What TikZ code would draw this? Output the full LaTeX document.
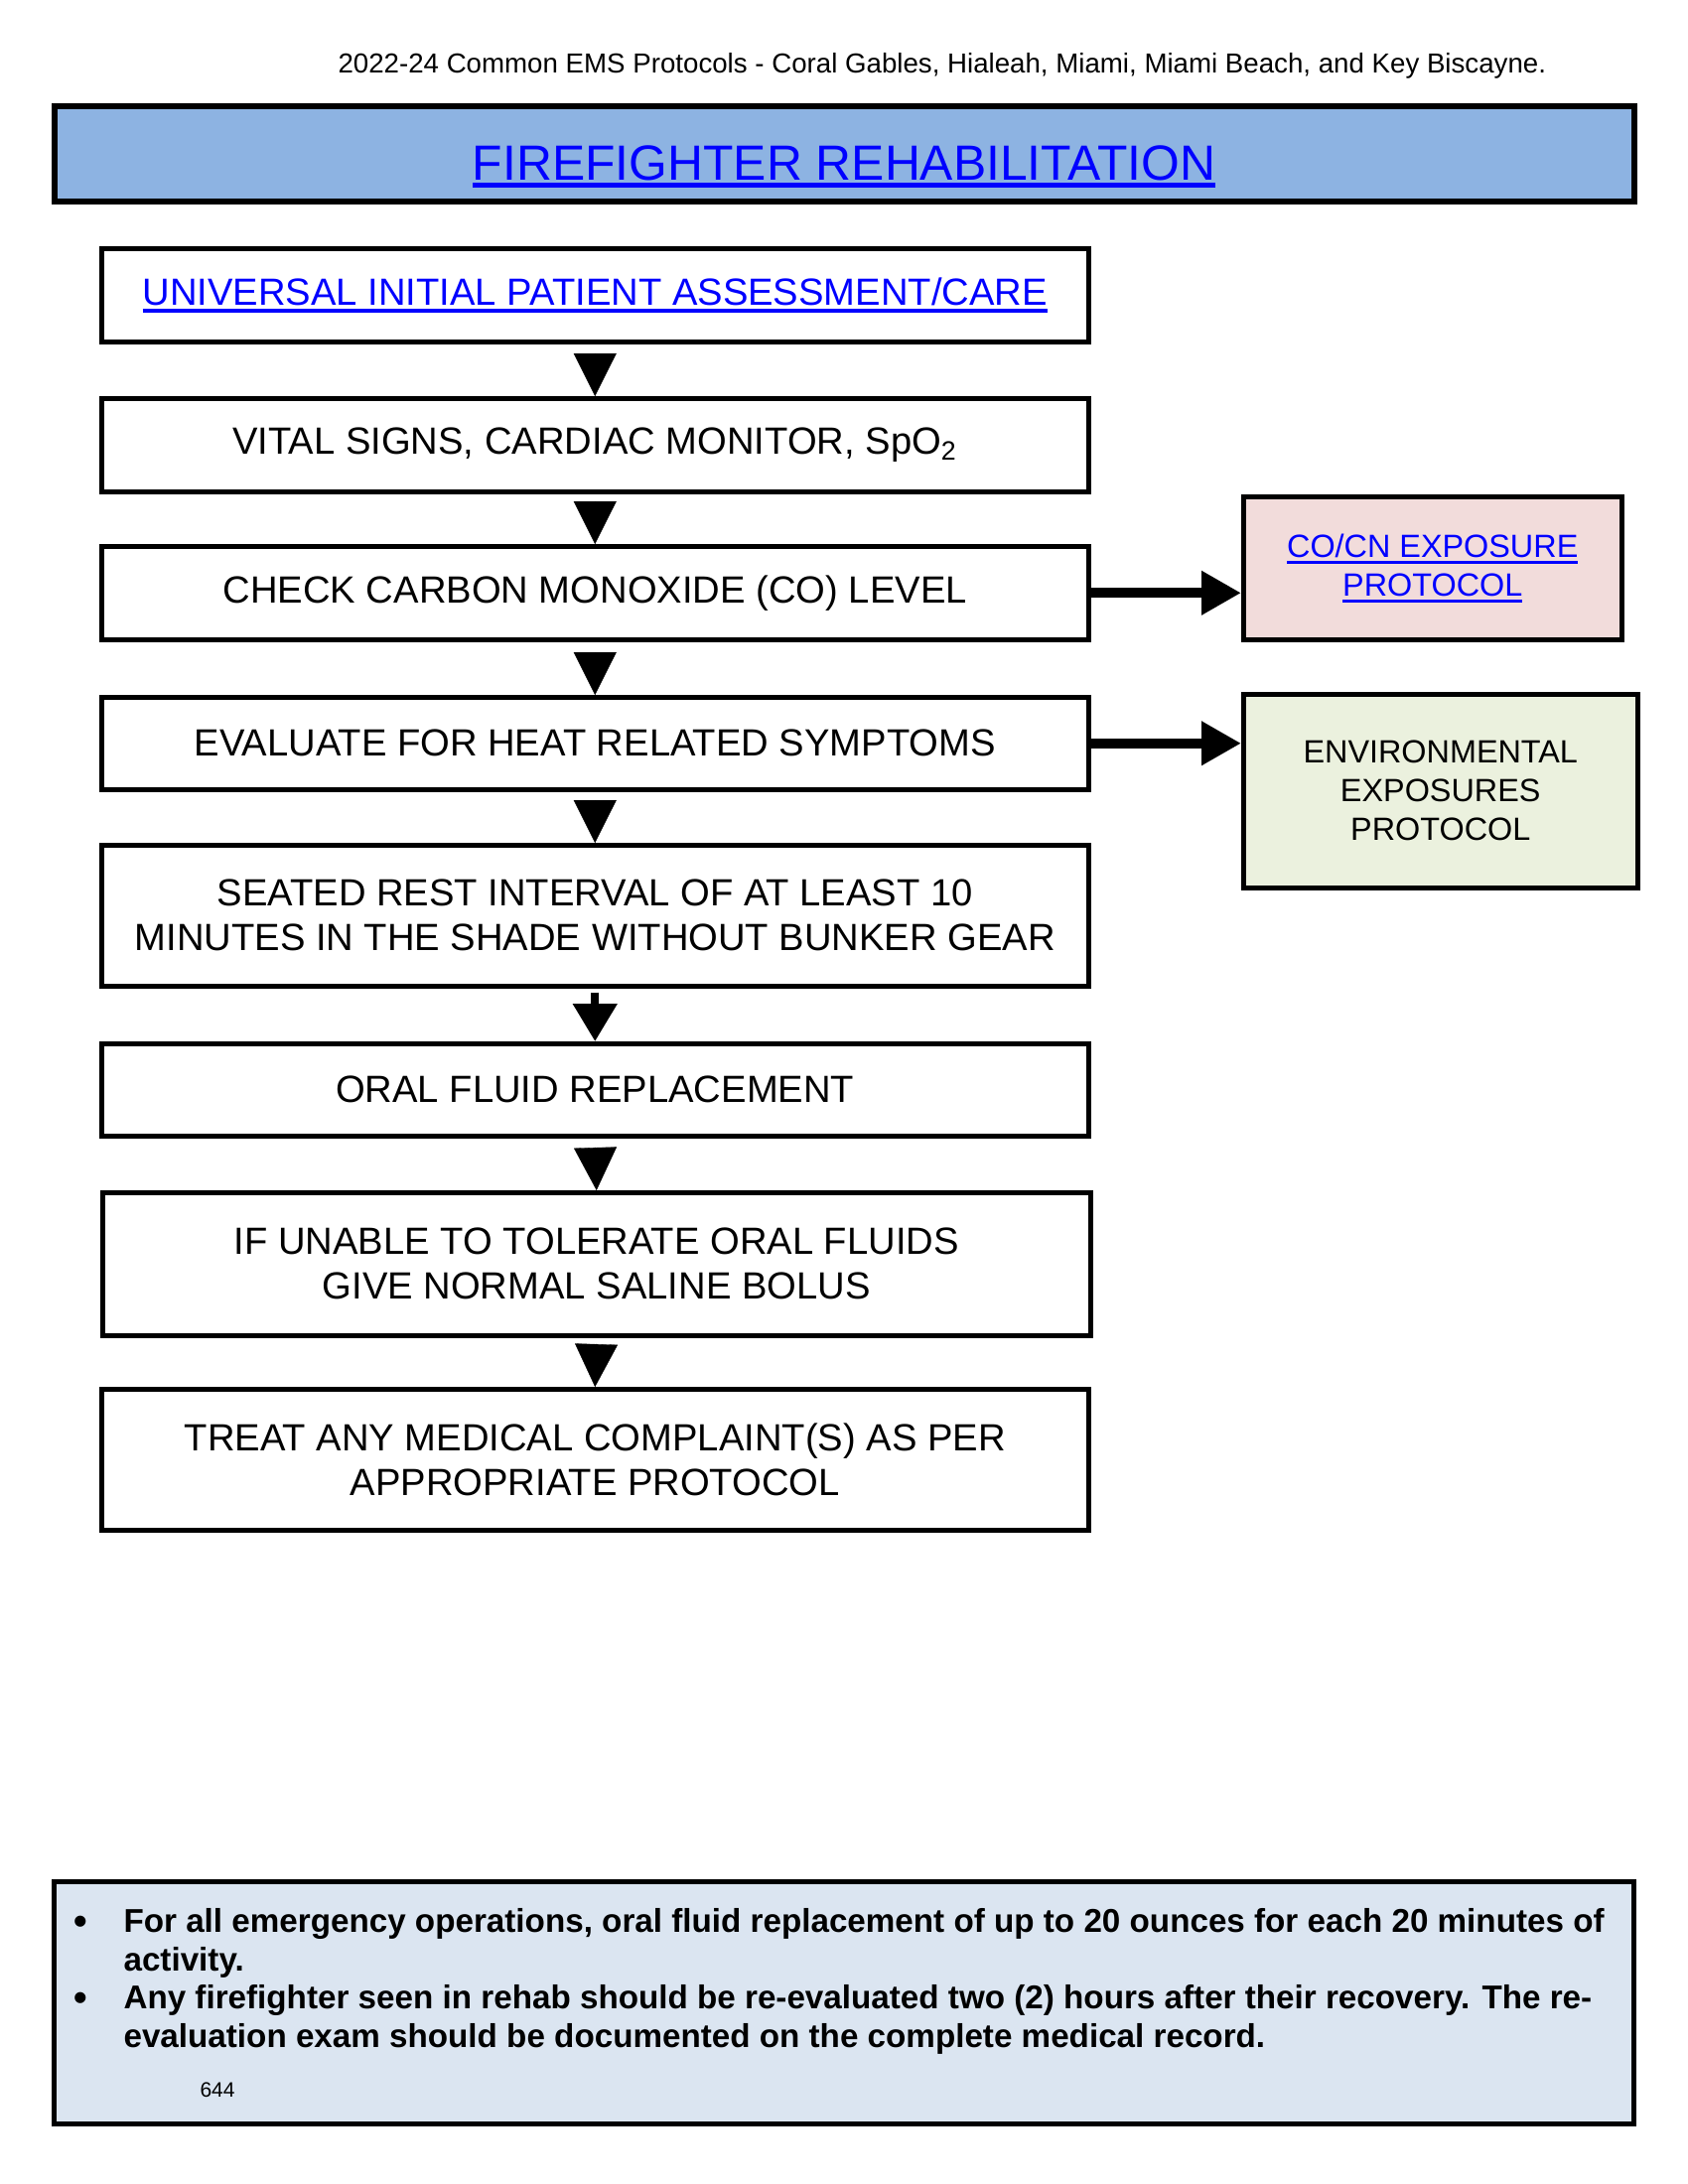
\documentclass[tikz,border=0pt]{standalone}
\usepackage{fontspec}
\setmainfont{Liberation Sans}
\usetikzlibrary{arrows.meta}
\def\pxu{0.36135pt}
\definecolor{titlefill}{HTML}{8DB3E2}
\definecolor{cofill}{HTML}{F2DCDB}
\definecolor{envfill}{HTML}{EBF1DE}
\definecolor{notefill}{HTML}{DBE5F1}
\definecolor{linkblue}{HTML}{0000FF}
% underline: #1 offset below baseline, #2 thickness, #3 text
\newcommand\ulnk[3]{\leavevmode\setbox0=\hbox{#3}\rlap{\vrule width\wd0 height -#1 depth \dimexpr#1+#2\relax}\box0}
\begin{document}
\begin{tikzpicture}[x=\pxu, y=-\pxu,
  flow/.style={draw, line width=4.5*\pxu, fill=white, inner sep=0pt, anchor=north west,
    minimum width=994*\pxu, align=center, font=\fontsize{13.8}{16.3}\selectfont},
  sidebox/.style={draw, line width=4.5*\pxu, inner sep=0pt, anchor=north west,
    align=center, font=\fontsize{11.7}{14.1}\selectfont},
  bigbox/.style={draw, line width=6*\pxu, inner sep=0pt, anchor=north west,
    minimum width=1591*\pxu},
  varrow/.style={-{Triangle[width=43*\pxu, length=43*\pxu]}, line width=0.3*\pxu, shorten <=#1*\pxu},
  stemarrow/.style={-{Triangle[width=43*\pxu, length=38*\pxu]}, line width=8*\pxu, shorten <=4*\pxu},
  harrow/.style={-{Triangle[width=42*\pxu, length=40*\pxu]}, line width=10*\pxu},
  note/.style={inner sep=0pt, anchor=base west, align=left, font=\bfseries\fontsize{12}{13.8}\selectfont},
  dot/.style={inner sep=0pt, anchor=base, font=\bfseries\fontsize{14}{14}\selectfont}
]
\fill[white] (0,0) rectangle (1700,2200);
\useasboundingbox (0,0) rectangle (1700,2200);

% header
\node[inner sep=0pt, anchor=base west, font=\fontsize{10}{12}\selectfont] (header) at (340,73)
  {2022-24 Common EMS Protocols - Coral Gables, Hialeah, Miami, Miami Beach, and Key Biscayne.};

% title
\node[bigbox, fill=titlefill, minimum height=96*\pxu] (titlebox) at (52,104) {};
\node[inner sep=0pt, anchor=base, text=linkblue, font=\fontsize{18}{21}\selectfont] (titletext) at (850,181)
  {\ulnk{0.05em}{0.12em}{FIREFIGHTER REHABILITATION}};

% flow boxes
\node[flow, minimum height=94*\pxu, text=linkblue] (b1) at (100,248)
  {\ulnk{0.1em}{0.1em}{UNIVERSAL INITIAL PATIENT ASSESSMENT/CARE}};
\node[flow, minimum height=94*\pxu] (b2) at (100,399)
  {VITAL SIGNS, CARDIAC MONITOR, SpO\textsubscript{2}};
\node[flow, minimum height=94*\pxu] (b3) at (100,548)
  {CHECK CARBON MONOXIDE (CO) LEVEL};
\node[flow, minimum height=93*\pxu] (b4) at (100,700)
  {EVALUATE FOR HEAT RELATED SYMPTOMS};
\node[flow, minimum height=142*\pxu] (b5) at (100,849)
  {SEATED REST INTERVAL OF AT LEAST 10\\MINUTES IN THE SHADE WITHOUT BUNKER GEAR};
\node[flow, minimum height=93*\pxu] (b6) at (100,1049)
  {ORAL FLUID REPLACEMENT};
\node[flow, minimum height=144*\pxu, minimum width=995*\pxu] (b7) at (101,1199)
  {IF UNABLE TO TOLERATE ORAL FLUIDS\\GIVE NORMAL SALINE BOLUS};
\node[flow, minimum height=142*\pxu] (b8) at (100,1397)
  {TREAT ANY MEDICAL COMPLAINT(S) AS PER\\APPROPRIATE PROTOCOL};

% side boxes
\node[sidebox, fill=cofill, minimum width=381*\pxu, minimum height=144*\pxu, text=linkblue] (co) at (1250,498)
  {\ulnk{0.1em}{0.09em}{CO/CN EXPOSURE}\\\ulnk{0.1em}{0.09em}{PROTOCOL}};
\node[sidebox, fill=envfill, minimum width=397*\pxu, minimum height=195*\pxu] (env) at (1250,697)
  {ENVIRONMENTAL\\EXPOSURES\\PROTOCOL};

% vertical arrows
\draw[varrow=9] (b1.south) -- (b2.north);
\draw[varrow=7] (b2.south) -- (b3.north);
\draw[varrow=10] (b3.south) -- (b4.north);
\draw[varrow=8] (b4.south) -- (b5.north);
\draw[stemarrow] (b5.south) -- (b6.north);
\draw[varrow=9] (b6.south) -- (b7.north);
\draw[varrow=6] (b7.south) -- (b8.north);

% horizontal arrows
\draw[harrow] (b3.east) -- (b3.east -| co.west);
\draw[harrow] (b4.east) -- (b4.east -| env.west);

% notes
\node[bigbox, fill=notefill, line width=4.5*\pxu, minimum height=244*\pxu] (notebox) at (52,1893) {};
\node[dot] (dot1) at (81,1948) {•};
\node[note] (note1) at (124,1985)
  {For all emergency operations, oral fluid replacement of up to 20 ounces for each 20 minutes of\\activity.};
\node[dot] (dot2) at (81,2025) {•};
\node[note] (note2) at (124,2062)
  {Any firefighter seen in rehab should be re-evaluated two (2) hours after their recovery. The re-\\evaluation exam should be documented on the complete medical record.};
\node[inner sep=0pt, anchor=base west, font=\fontsize{7.6}{9}\selectfont] (page) at (201,2112) {644};
\end{tikzpicture}
\end{document}
